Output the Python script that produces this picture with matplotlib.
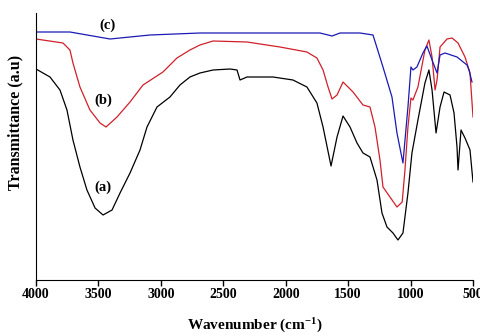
import numpy as np
import matplotlib
matplotlib.use("Agg")
import matplotlib.pyplot as plt

plt.rcParams["mathtext.fontset"] = "custom"
plt.rcParams["mathtext.rm"] = "Liberation Serif:bold"
plt.rcParams["mathtext.bf"] = "Liberation Serif:bold"
plt.rcParams["mathtext.it"] = "Liberation Serif:bold"

# FTIR spectra, wavenumber (cm-1) and transmittance (arbitrary units)
wn_a = [4000, 3888, 3808, 3752, 3704, 3648, 3592, 3527, 3463, 3391, 3327, 3247, 3167, 3111, 3031,
        2927, 2847, 2767, 2687, 2582, 2446, 2390, 2366, 2310, 2102, 1942, 1830, 1750, 1701, 1637,
        1589, 1541, 1485, 1429, 1381, 1325, 1269, 1229, 1189, 1141, 1101, 1061, 1021, 989, 941,
        885, 853, 828, 796, 764, 732, 684, 652, 628, 620, 596, 564, 524, 500]
tr_a = [211, 203, 190, 170, 140, 113, 90, 72, 65, 70, 87, 107, 130, 153, 173,
        183, 195, 203, 207, 210, 211, 210, 200, 203, 203, 200, 193, 177, 153, 114,
        143, 164, 153, 137, 127, 123, 100, 67, 53, 47, 40, 47, 87, 127, 160,
        197, 210, 190, 147, 173, 188, 185, 167, 133, 110, 150, 142, 130, 98]

wn_b = [4000, 3784, 3728, 3704, 3648, 3568, 3487, 3439, 3351, 3247, 3143, 2983, 2871, 2767, 2687,
        2582, 2310, 2046, 1830, 1750, 1701, 1661, 1629, 1589, 1541, 1461, 1381, 1325, 1285, 1245,
        1221, 1165, 1109, 1067, 1045, 1021, 997, 981, 941, 885, 853, 828, 804, 788, 764,
        708, 668, 620, 564, 524, 500]
tr_b = [241, 237, 230, 217, 193, 170, 157, 153, 163, 178, 195, 208, 222, 230, 235,
        239, 238, 233, 228, 222, 210, 193, 181, 185, 198, 188, 175, 173, 153, 120,
        93, 83, 73, 78, 110, 153, 182, 180, 193, 230, 240, 223, 190, 200, 233,
        241, 242, 237, 223, 207, 163]

wn_c = [4000, 3728, 3407, 3247, 3087, 2687, 2366, 2046, 1725, 1629, 1565, 1405, 1301, 1221, 1149,
        1109, 1061, 1021, 997, 981, 949, 901, 869, 828, 788, 764, 724, 628, 548, 532, 508]
tr_c = [248, 248, 241, 243, 245, 247, 247, 247, 247, 244, 247, 247, 245, 213, 183,
        147, 117, 173, 213, 210, 213, 227, 234, 220, 207, 225, 227, 223, 215, 210, 198]

serif = ["Liberation Serif", "DejaVu Serif"]

fig = plt.figure(figsize=(4.81, 3.36), dpi=100)
ax = fig.add_axes([36 / 481, 56 / 336, 437 / 481, 267 / 336])

ax.plot(wn_a, tr_a, color="black", lw=0.9)
ax.plot(wn_b, tr_b, color="#d0202a", lw=0.9)
ax.plot(wn_c, tr_c, color="#1a1ab4", lw=0.9)

ax.text(3460, 93, "(a)", fontfamily=serif, fontweight="bold", fontsize=10.5, ha="center", va="center")
ax.text(3460, 180, "(b)", fontfamily=serif, fontweight="bold", fontsize=10.5, ha="center", va="center")
ax.text(3430, 255, "(c)", fontfamily=serif, fontweight="bold", fontsize=10.5, ha="center", va="center")

ax.set_xlim(4000, 500)
ax.set_ylim(0, 267)
ax.set_xticks(np.arange(4000, 499, -500))
ax.set_yticks([])
for lab in ax.get_xticklabels():
    lab.set_fontfamily(serif)
    lab.set_fontweight("bold")
    lab.set_fontsize(10)
ax.tick_params(axis="x", direction="out", length=4, width=1, pad=2)
ax.spines["top"].set_visible(False)
ax.spines["right"].set_visible(False)
ax.set_xlabel("Wavenumber (cm$^{-1}$)", fontfamily=serif, fontweight="bold", fontsize=11, labelpad=11)
ax.set_ylabel("Transmittance (a.u)", fontfamily=serif, fontweight="bold", fontsize=11.5)
ax.yaxis.set_label_coords(-0.028, 0.59)

fig.savefig("out.png", dpi=100)
